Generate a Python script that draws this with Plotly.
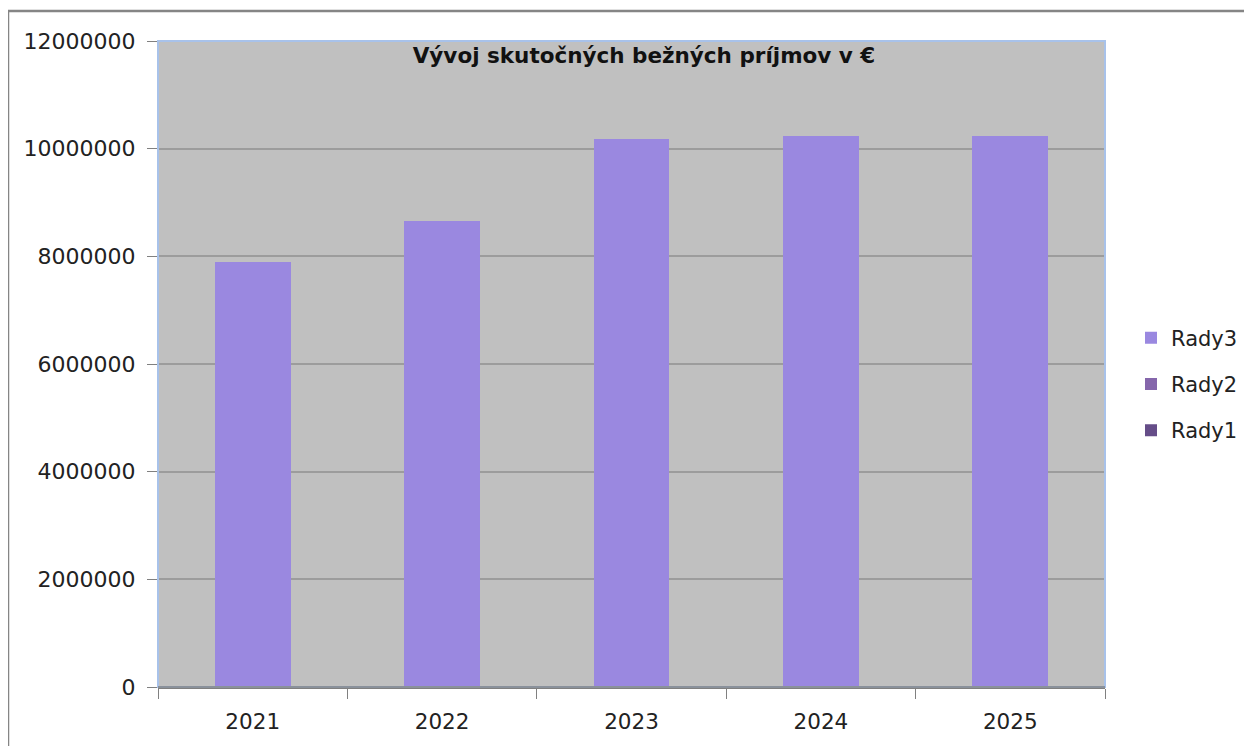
import plotly.graph_objects as go

years = ["2021", "2022", "2023", "2024", "2025"]
rady1 = [0, 0, 0, 0, 0]
rady2 = [0, 0, 0, 0, 0]
rady3 = [7900000, 8660000, 10180000, 10235000, 10235000]
title_text = "Vývoj skutočných bežných príjmov v €"

# page has an 8px body margin; positions below are screen pixels
O = 8
W, H = 1252 - O, 746 - O
L, R, T, B = 158, 1105, 41, 687
pw, ph = R - L, B - T

def px(x):
    return (x - L) / pw

def py(y):
    return (B - y) / ph

fig = go.Figure()
series = [("Rady1", rady1, "#654d88", 3), ("Rady2", rady2, "#8566ab", 2), ("Rady3", rady3, "#9a88e0", 1)]
for name, vals, col, rank in series:
    fig.add_trace(go.Bar(
        x=years, y=vals, name=name, legendgroup=name, legendrank=rank,
        marker=dict(color=col, line=dict(width=0)),
    ))

fig.update_layout(
    width=W, height=H,
    margin=dict(l=L - O, r=(W + O) - R, t=T - O, b=(H + O) - B, autoexpand=False),
    paper_bgcolor="white",
    plot_bgcolor="#c0c0c0",
    barmode="stack",
    bargap=0.6,
    font=dict(family="DejaVu Sans", size=20, color="#222222"),
    title=dict(
        text=title_text, x=px(644), xref="paper", xanchor="center",
        y=1 - (55 - O) / H, yref="container", yanchor="middle",
        font=dict(family="DejaVu Sans", size=21.5, color="#111111", weight="bold"),
    ),
    legend=dict(
        x=px(1131), y=py(384), xanchor="left", yanchor="middle",
        traceorder="grouped", tracegroupgap=16,
        font=dict(family="DejaVu Sans", size=21, color="#222222"),
        bgcolor="rgba(0,0,0,0)",
    ),
    showlegend=True,
)

fig.update_xaxes(
    type="category", tickson="boundaries", ticks="outside", ticklen=10,
    tickcolor="#808080", showline=True, linecolor="#808080", linewidth=1.5,
    showgrid=False, tickfont=dict(size=21.5), ticklabelstandoff=14,
)
fig.update_yaxes(
    range=[0, 12000000], dtick=2000000, tickformat="d",
    ticks="outside", ticklen=10, tickcolor="#808080",
    showgrid=True, gridcolor="#9c9c9c", gridwidth=1.5,
    showline=False, zeroline=False, tickfont=dict(size=22), ticklabelstandoff=7,
)

# plot area border (light blue)
fig.add_shape(type="rect", xref="paper", yref="paper", x0=0, y0=0, x1=1, y1=1,
              line=dict(color="#a8c2ea", width=2), layer="above")
# bottom axis line over border
fig.add_shape(type="line", xref="paper", yref="paper", x0=0, y0=0, x1=1, y1=0,
              line=dict(color="#808080", width=1.5), layer="above")
# outer chart frame
fig.add_shape(type="line", xref="paper", yref="paper", x0=px(8), y0=py(11), x1=px(1270), y1=py(11),
              line=dict(color="#858585", width=2.5))
fig.add_shape(type="line", xref="paper", yref="paper", x0=px(8), y0=py(11), x1=px(8), y1=py(770),
              line=dict(color="#858585", width=2.5))

fig.write_html("out.html")
